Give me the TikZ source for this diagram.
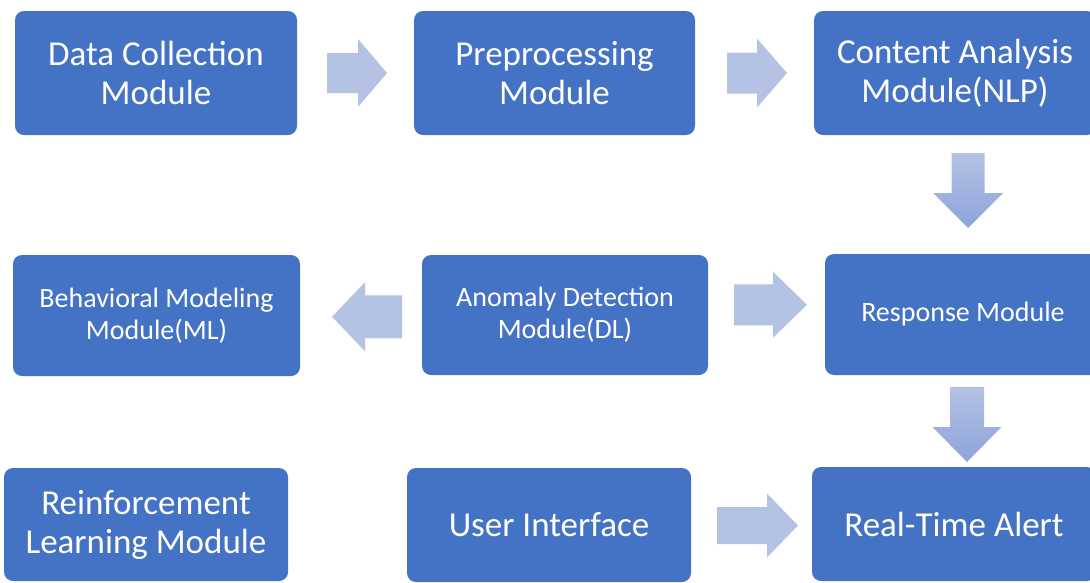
\documentclass[tikz,border=0pt]{standalone}
\usepackage{fontspec}
\setmainfont{Carlito}
\usetikzlibrary{calc}
\definecolor{boxblue}{HTML}{4472C4}
\definecolor{arrowblue}{HTML}{B4C2E3}
\definecolor{arrowtop}{HTML}{B3C2E4}
\definecolor{arrowbot}{HTML}{8EA4DA}
\tikzset{
  module/.style={draw=none, fill=boxblue, rounded corners=9pt, text=white,
    align=center, inner sep=0pt, anchor=center},
  bigtext/.style={font=\fontsize{35}{39}\selectfont},
  smalltext/.style={font=\fontsize{28}{32}\selectfont},
  % block arrow pointing right (+x), centred on the origin
  pics/blockarrow/.style n args={4}{code={
    % #1 total length, #2 head length, #3 half shaft width, #4 half head width
    \path[pic actions]
      (-#1/2,-#3) -- (#1/2-#2,-#3) -- (#1/2-#2,-#4) -- (#1/2,0)
      -- (#1/2-#2,#4) -- (#1/2-#2,#3) -- (-#1/2,#3) -- cycle;
  }},
  % block arrow pointing down the page, centred on the origin
  pics/downarrow/.style n args={4}{code={
    \path[pic actions]
      (-#3,-#1/2) -- (-#3,#1/2-#2) -- (-#4,#1/2-#2) -- (0,#1/2)
      -- (#4,#1/2-#2) -- (#3,#1/2-#2) -- (#3,-#1/2) -- cycle;
  }},
  flatarrow/.style={fill=arrowblue},
  shadearrow/.style={top color=arrowtop, bottom color=arrowbot},
}
\begin{document}
\begin{tikzpicture}[x=1pt, y=-1pt]
\useasboundingbox (0,0) rectangle (1090,582);
\clip (0,0) rectangle (1090,582);

% first row
\node[module, bigtext, minimum width=282pt, minimum height=124pt] (dc) at (156,73)
  {Data Collection\\Module};
\node[module, bigtext, minimum width=281pt, minimum height=124pt] (pp) at (554.5,73)
  {Preprocessing\\Module};
\node[module, bigtext, minimum width=282pt, minimum height=124pt] (ca) at (955,73)
  {Content Analysis\\Module(NLP)};

% second row
\node[module, smalltext, minimum width=287pt, minimum height=121pt] (bm) at (156.5,315.5)
  {Behavioral Modeling\\Module(ML)};
\node[module, smalltext, minimum width=286pt, minimum height=120pt] (ad) at (565,315)
  {Anomaly Detection\\Module(DL)};
\node[module, smalltext, minimum width=276pt, minimum height=121pt] (rs) at (963,314.5)
  {Response Module};

% third row
\node[module, bigtext, minimum width=284pt, minimum height=113pt] (rl) at (146,524.5)
  {Reinforcement\\Learning Module};
\node[module, bigtext, minimum width=284pt, minimum height=114pt] (ui) at (549,525)
  {User Interface};
\node[module, bigtext, minimum width=284pt, minimum height=114pt] (rt) at (954,524)
  {Real-Time Alert};

% block arrows between the modules
\pic[flatarrow] at ($(dc.east)!0.5!(pp.west)+(1.5,0)$) {blockarrow={60}{29}{20}{34}};
\pic[flatarrow] at ($(pp.east)!0.5!(ca.west)+(2.5,0)$) {blockarrow={60}{30}{20.5}{34.5}};
\pic[shadearrow] at ($(ca.south)!0.5!(rs.north)+(9,-4)$) {downarrow={75}{35}{16.5}{35}};
\pic[flatarrow, rotate=180] at ($(bm.east)!0.5!(ad.west)+(6,1.5)$) {blockarrow={70}{33}{21.5}{34.5}};
\pic[flatarrow] at ($(ad.east)!0.5!(rs.west)+(4,-10)$) {blockarrow={73}{34}{20.5}{33}};
\pic[shadearrow] at ($(rs.south)!0.5!(rt.north)+(8.5,3.5)$) {downarrow={75}{35}{17}{34.5}};
\pic[flatarrow] at ($(ui.east)!0.5!(rt.west)+(6,1)$) {blockarrow={81}{31}{18.5}{32}};
\end{tikzpicture}
\end{document}
